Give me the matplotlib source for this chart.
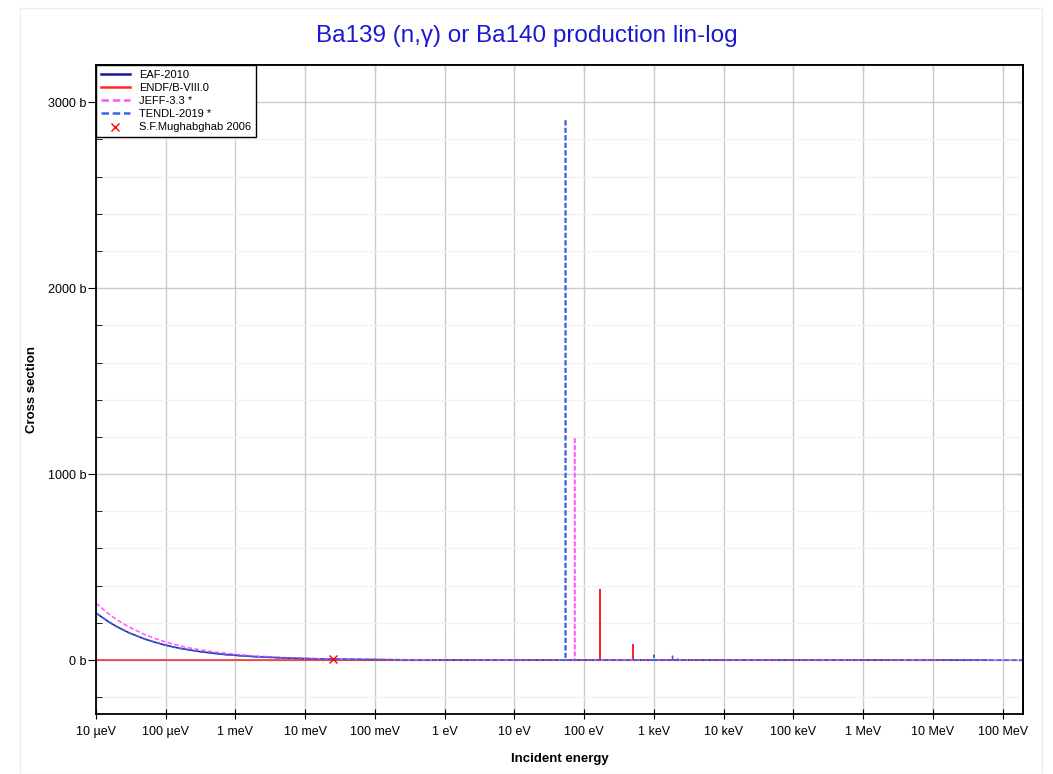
import matplotlib
matplotlib.use("Agg")
import matplotlib.pyplot as plt
from matplotlib.ticker import FixedLocator, MultipleLocator, FuncFormatter, NullFormatter
from matplotlib.patches import Rectangle

plt.rcParams['font.family'] = ['Liberation Sans', 'DejaVu Sans']

# energies in eV, cross sections in barn
thermal_e = [1e-5, 1.5e-5, 2e-5, 3e-5, 5e-5, 7e-5, 1e-4, 1.5e-4, 2e-4, 3e-4, 5e-4, 7e-4,
             1e-3, 2e-3, 5e-3, 1e-2, 2.53e-2, 0.1, 0.3, 1, 3, 10]
eaf_thermal = [253, 207, 179, 146, 113, 96, 80, 65, 57, 46, 36, 30,
               25.3, 17.9, 11.3, 8.0, 5.03, 2.53, 1.46, 0.8, 0.46, 0.25]
jeff_thermal = [306, 250, 216, 177, 137, 116, 97, 79, 68, 56, 43, 37,
                30.6, 21.6, 13.7, 9.7, 6.1, 3.06, 1.77, 0.97, 0.56, 0.31]

eaf_e = thermal_e + [100, 1e3, 1e4, 1e5, 1e6, 1e7, 6e7]
eaf_xs = eaf_thermal + [0.08, 0.05, 0.03, 0.02, 0.01, 0.005, 0.003]

endf_e = [1e-5, 1e-2, 1, 10, 168, 169, 170, 498, 500, 502, 1e4, 1e5, 1e6, 2e7]
endf_xs = [0.4, 0.3, 0.2, 0.1, 0.1, 380, 0.1, 0.1, 83, 0.1, 0.05, 0.03, 0.01, 0.005]

jeff_e = thermal_e + [72.8, 73, 73.2, 1e3, 1e4, 1e5, 1e6, 1e7, 2e8]
jeff_xs = jeff_thermal + [0.1, 1198, 0.1, 0.05, 0.03, 0.02, 0.01, 0.005, 0.002]

tendl_e = thermal_e + [53.85, 54, 54.15, 995, 1000, 1005, 1845, 1850, 1855, 2195, 2200, 2205,
                       1e4, 1e5, 1e6, 1e7, 2e8]
tendl_xs = eaf_thermal + [0.1, 2909, 0.1, 0.1, 27, 0.1, 0.1, 21, 0.1, 0.1, 6, 0.1,
                          0.03, 0.02, 0.01, 0.005, 0.002]

exp_e = [0.0253]
exp_xs = [5.0]

tick_e = [1e-5, 1e-4, 1e-3, 1e-2, 1e-1, 1, 10, 100, 1e3, 1e4, 1e5, 1e6, 1e7, 1e8]
tick_labels = ["10 µeV", "100 µeV", "1 meV", "10 meV", "100 meV", "1 eV", "10 eV",
               "100 eV", "1 keV", "10 keV", "100 keV", "1 MeV", "10 MeV", "100 MeV"]

W, H = 1053, 774
fig = plt.figure(figsize=(W / 100, H / 100), dpi=100)
fig.patches.append(Rectangle((20 / W, 0), 1022 / W, 766 / H, transform=fig.transFigure,
                             fill=False, edgecolor='#eeeeee', linewidth=1))
ax = fig.add_axes([96 / W, 1 - 714 / H, 927 / W, 649 / H])

ax.plot(eaf_e, eaf_xs, color='#00008b', lw=1.1, alpha=0.9, label='EAF-2010')
ax.plot(endf_e, endf_xs, color='red', lw=1.1, alpha=0.85, label='ENDF/B-VIII.0')
ax.plot(jeff_e, jeff_xs, color='#ff55ff', lw=1.1, ls=(0, (3, 1.5)), label='JEFF-3.3 *')
ax.plot(tendl_e, tendl_xs, color='#3a66e0', lw=1.2, ls=(0, (3, 1.5)), label='TENDL-2019 *')
ax.plot(exp_e, exp_xs, 'x', color='red', ms=6, mew=1, ls='none', label='S.F.Mughabghab 2006')

ax.set_xscale('log')
ax.set_xlim(1e-5, 1.96e8)
ax.set_ylim(-290, 3200)
ax.xaxis.set_major_locator(FixedLocator(tick_e))
ax.set_xticklabels(tick_labels)
ax.xaxis.set_minor_locator(FixedLocator([]))
ax.yaxis.set_major_locator(MultipleLocator(1000))
ax.yaxis.set_minor_locator(MultipleLocator(200))
ax.yaxis.set_major_formatter(FuncFormatter(lambda v, p: f"{v:.0f} b"))

ax.grid(True, which='major', color='#cccccc', lw=1)
ax.grid(True, which='minor', axis='y', color='#f2f2f2', lw=1)
ax.set_axisbelow(True)
ax.tick_params(axis='x', which='major', direction='inout', length=7, labelsize=9, pad=5)
ax.tick_params(axis='y', which='major', direction='out', length=6, labelsize=9, pad=1)
ax.tick_params(axis='y', which='minor', direction='in', length=4)
for s in ax.spines.values():
    s.set_linewidth(1.3)

# inward ticks on the right and top frame
sec_y = ax.secondary_yaxis('right')
sec_y.yaxis.set_major_locator(MultipleLocator(1000))
sec_y.yaxis.set_minor_locator(MultipleLocator(200))
sec_y.yaxis.set_major_formatter(NullFormatter())
sec_y.tick_params(which='both', direction='in', length=4)
sec_y.spines['right'].set_linewidth(1.3)
sec_x = ax.secondary_xaxis('top')
sec_x.xaxis.set_major_locator(FixedLocator(tick_e))
sec_x.xaxis.set_minor_locator(FixedLocator([]))
sec_x.xaxis.set_major_formatter(NullFormatter())
sec_x.tick_params(which='both', direction='in', length=4)
sec_x.spines['top'].set_linewidth(1.3)

ax.set_xlabel('Incident energy', fontsize=9.5, fontweight='bold', labelpad=11)
ax.set_ylabel('Cross section', fontsize=9.5, fontweight='bold')
ax.yaxis.set_label_coords((38 - 96) / 927, 0.5)
fig.text(0.5, 1 - 36 / H, 'Ba139 (n,γ) or Ba140 production lin-log', ha='center', va='center',
         fontsize=17.5, color='#1a1acc')

leg = ax.legend(loc='upper left', fontsize=8, frameon=True, fancybox=False, borderaxespad=0,
                handlelength=2.6, labelspacing=0.28, borderpad=0.45, framealpha=1)
leg.get_frame().set_edgecolor('black')
leg.get_frame().set_linewidth(1)
for h in leg.legend_handles[:4]:
    h.set_linewidth(1.8)

fig.savefig('out.png', dpi=100)
